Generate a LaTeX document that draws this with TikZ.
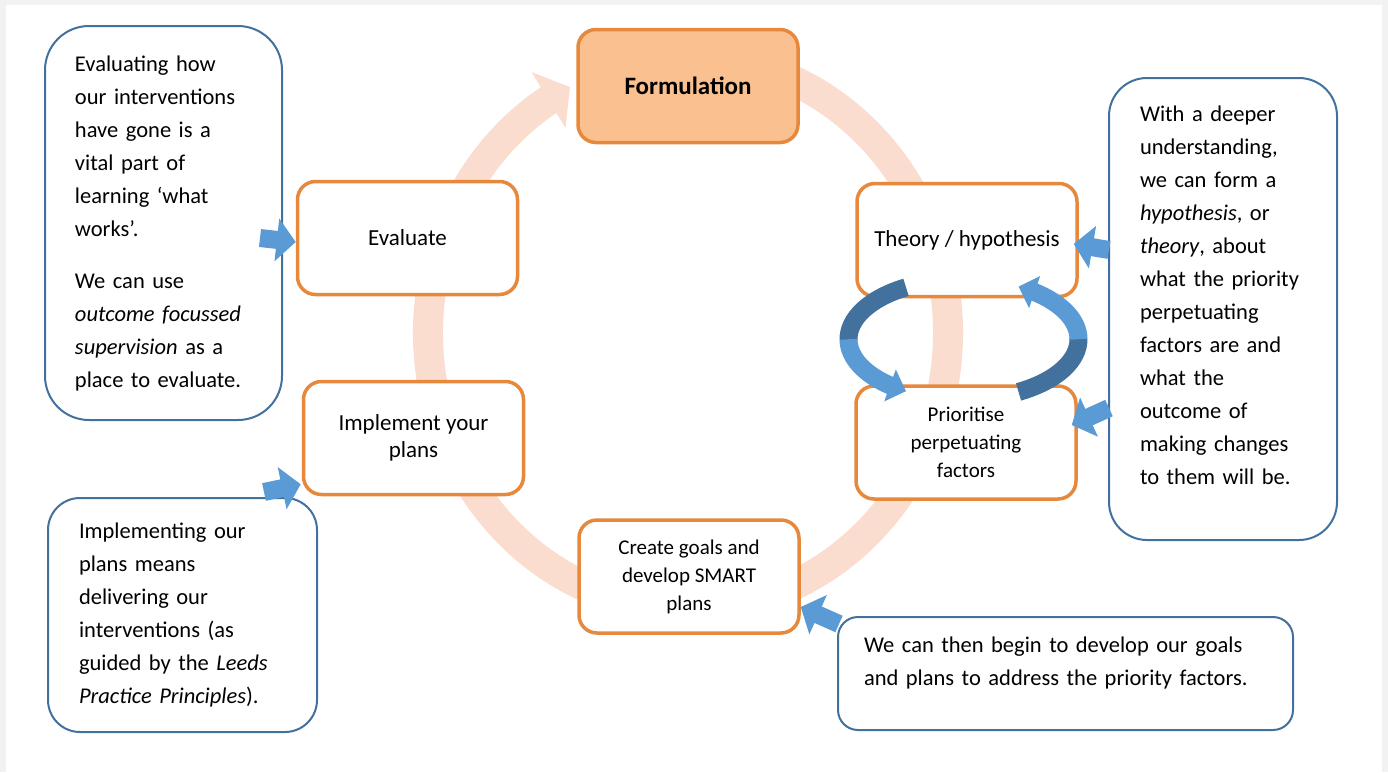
\documentclass[tikz,border=0pt]{standalone}
\usepackage{fontspec}
\setmainfont{Carlito}
\usetikzlibrary{arrows.meta,bending,calc,positioning}
\definecolor{boxorange}{RGB}{230,137,60}
\definecolor{formfill}{RGB}{250,192,144}
\definecolor{ringpeach}{RGB}{251,221,208}
\definecolor{noteblue}{RGB}{65,113,156}
\definecolor{arrowblue}{RGB}{91,155,213}
\definecolor{darkblue}{RGB}{65,113,156}
\definecolor{pagegray}{RGB}{242,242,242}
\newcommand{\notepad}[1]{\rule[-#1]{0pt}{0pt}}

\begin{document}
\begin{tikzpicture}[x=0.5pt, y=-0.5pt,
  stage/.style={draw=boxorange, line width=1.75pt, rounded corners=9pt, fill=white, align=center,
    minimum width=110pt, minimum height=56.5pt, inner sep=2pt, font=\fontsize{11.5pt}{13.5pt}\selectfont},
  smalltext/.style={font=\fontsize{10.5pt}{14pt}\selectfont},
  note/.style={draw=noteblue, line width=1pt, fill=white, align=left, inner sep=0pt,
    font=\fontsize{11.25pt}{16.5pt}\selectfont},
  callout/.style={arrowblue, line width=9pt, -{Triangle[length=9.5pt, width=21pt]}},
  cyclearrow/.style={line width=9pt, -{Triangle[length=8.5pt, width=16.5pt]}}]
  \useasboundingbox (0,0) rectangle (1388,772);
  \fill[pagegray] (0,0) rectangle (1388,772);
  \fill[white] (6,5) rectangle (1382,772);

  \coordinate (ringc) at (688,333);
  \draw[ringpeach, line width=15pt, -{Triangle[length=12.5pt, width=32pt]}]
    (ringc) ++(-80:260 and 276) arc[start angle=-80, end angle=243, x radius=260, y radius=276];

  \node[stage, fill=formfill, font=\bfseries\fontsize{12.5pt}{15pt}\selectfont] (form) at (688,86) {Formulation};
  \node[stage] (theory) at (967,240) {Theory / hypothesis};
  \node[stage, smalltext] (prio) at (966,442.5) {Prioritise\\perpetuating\\factors};
  \node[stage, smalltext] (create) at (689,576.5) {Create goals and\\develop SMART\\plans};
  \node[stage] (impl) at (413.5,438) {Implement your\\plans};
  \node[stage] (eval) at (407.5,238) {Evaluate};

  \node[note, rounded corners=22pt, minimum width=118.5pt, minimum height=197pt, text width=88.5pt] (note1) at (163.5,223)
    {Evaluating how\\our interventions\\have gone is a\\vital part of\\learning ‘what\\works’.\\[9.5pt]We can use\\\textit{outcome focussed}\\\textit{supervision} as a\\place to evaluate.};
  \node[note, rounded corners=16pt, minimum width=134.5pt, minimum height=117pt, text width=103.5pt] (note2) at (182.5,615)
    {Implementing our\\plans means\\delivering our\\interventions (as\\guided by the \textit{Leeds}\\\textit{Practice Principles}).};
  \node[note, rounded corners=19pt, minimum width=114pt, minimum height=231pt, text width=83pt] (note3) at (1223,309)
    {With a deeper\\understanding,\\we can form a\\\textit{hypothesis}, or\\\textit{theory}, about\\what the priority\\perpetuating\\factors are and\\what the\\outcome of\\making changes\\to them will be.\notepad{14pt}};
  \node[note, rounded corners=10pt, minimum width=227.5pt, minimum height=56.5pt, text width=201.5pt] (note4) at (1065.5,673.5)
    {We can then begin to develop our goals\\and plans to address the priority factors.\notepad{12pt}};

  \coordinate (loopc) at ($(theory)!0.5!(prio)+(-3,-2)$);
  \draw[cyclearrow, darkblue, -] (loopc) ++(-120:115 and 60) arc[start angle=-120, end angle=-181, x radius=115, y radius=60];
  \draw[cyclearrow, arrowblue] (loopc) ++(-180:115 and 60) arc[start angle=-180, end angle=-240, x radius=115, y radius=60];
  \draw[cyclearrow, darkblue, -] (loopc) ++(61.4:115 and 60) arc[start angle=61.4, end angle=-1, x radius=115, y radius=60];
  \draw[cyclearrow, arrowblue] (loopc) ++(0:115 and 60) arc[start angle=0, end angle=-61.4, x radius=115, y radius=60];

  \draw[callout] ($(note1.east)+(-23,15)$) -- ($(eval.west)+(0,4)$);
  \draw[callout] ($(note2.north east)+(-54,-5)$) -- ($(impl.south west)+(-1,-12)$);
  \draw[callout] ($(note3.west)+(1,-59)$) -- ($(theory.east)+(-5,4)$);
  \draw[callout] ($(note3.west)+(1,99)$) -- ($(prio.east)+(-6,-17.5)$);
  \draw[callout] ($(note4.north west)+(2,8)$) -- ($(create.east)+(0,30.5)$);
\end{tikzpicture}
\end{document}
